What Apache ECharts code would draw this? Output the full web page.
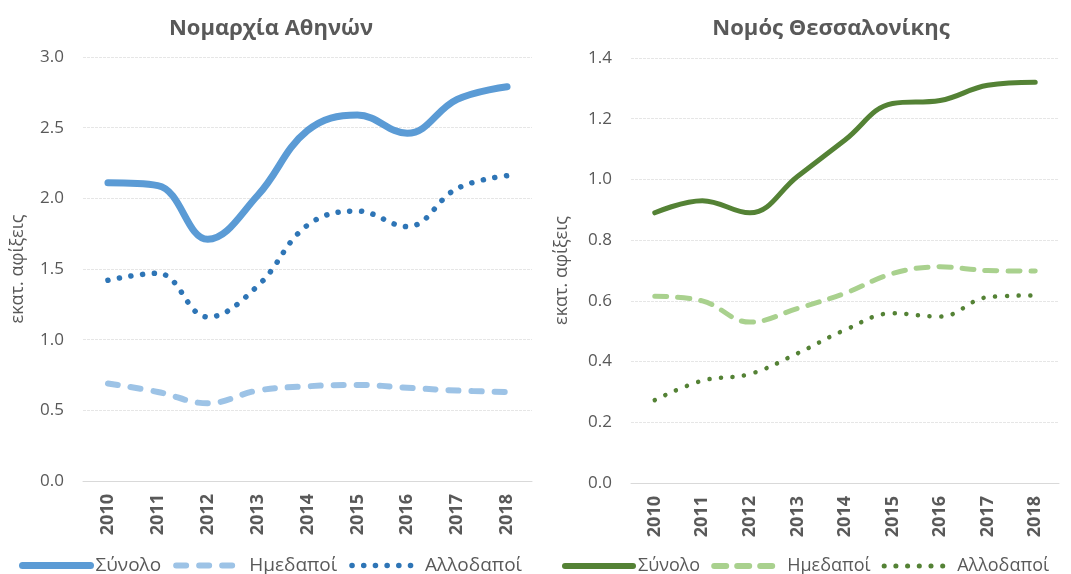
<!DOCTYPE html>
<html>
<head>
<meta charset="utf-8">
<script src="https://cdn.jsdelivr.net/npm/echarts@6/dist/echarts.min.js"></script>
<style>
  html, body { margin: 0; padding: 0; background: #fff; }
  #wrap { position: relative; width: 1071px; height: 574px; }
  #athens { position: absolute; left: 0; top: 0; width: 540px; height: 574px; }
  #thess { position: absolute; left: 540px; top: 0; width: 531px; height: 574px; }
</style>
</head>
<body>
<div id="wrap">
  <div id="athens"></div>
  <div id="thess"></div>
</div>
<script>
// Years on the horizontal axis
const years = ['2010', '2011', '2012', '2013', '2014', '2015', '2016', '2017', '2018'];

// Arrivals in Athens prefecture (millions)
const athensTotal    = [2.11, 2.09, 1.71, 2.02, 2.48, 2.59, 2.46, 2.70, 2.79];
const athensDomestic = [0.69, 0.63, 0.55, 0.64, 0.67, 0.68, 0.66, 0.64, 0.63];
const athensForeign  = [1.42, 1.47, 1.16, 1.38, 1.81, 1.91, 1.80, 2.07, 2.16];

// Arrivals in Thessaloniki prefecture (millions)
const thessTotal    = [0.89, 0.93, 0.89, 1.01, 1.13, 1.25, 1.26, 1.31, 1.32];
const thessDomestic = [0.615, 0.60, 0.53, 0.575, 0.625, 0.69, 0.712, 0.70, 0.698];
const thessForeign  = [0.273, 0.337, 0.359, 0.427, 0.504, 0.559, 0.548, 0.612, 0.618];

const seriesNames = ['Σύνολο', 'Ημεδαποί', 'Αλλοδαποί'];
const yAxisName = 'εκατ. αφίξεις';

const FONT = '"Open Sans", "Noto Sans", sans-serif';
const TXT = '#595959';

function buildOption(cfg) {
  const styles = [
    { color: cfg.colors[0], width: cfg.widths[0], type: 'solid' },
    { color: cfg.colors[1], width: cfg.widths[1], type: cfg.dash },
    { color: cfg.colors[2], width: cfg.widths[2], type: cfg.dot }
  ];
  const datasets = [cfg.total, cfg.domestic, cfg.foreign];
  return {
    animation: false,
    textStyle: { fontFamily: FONT },
    title: {
      text: cfg.title, left: cfg.titleLeft, top: 13,
      textAlign: 'center',
      textStyle: { fontFamily: FONT, fontSize: 22, fontWeight: 'bold', color: TXT }
    },
    legend: {
      bottom: -6, left: cfg.legendLeft, right: 0,
      itemWidth: cfg.legendIconWidth, itemHeight: 10, itemGap: cfg.legendGap,
      textStyle: { fontFamily: FONT, fontSize: cfg.legendFont, color: TXT },
      data: seriesNames.map((name, i) => ({
        name,
        itemStyle: { opacity: 0 },
        lineStyle: { color: styles[i].color, width: cfg.legendWidths[i], type: styles[i].type, cap: 'round' }
      }))
    },
    grid: cfg.grid,
    xAxis: {
      type: 'category', data: years, boundaryGap: true,
      axisLine: { lineStyle: { color: '#d9d9d9', width: 1 } },
      axisTick: { show: false },
      axisLabel: { rotate: 90, margin: 13, fontFamily: FONT, fontSize: 18, fontWeight: 'bold', color: TXT }
    },
    yAxis: {
      type: 'value', min: 0, max: cfg.max, interval: cfg.interval,
      name: yAxisName, nameLocation: 'middle', nameGap: cfg.nameGap, nameRotate: 90,
      nameTextStyle: { fontFamily: FONT, fontSize: 18, color: TXT },
      axisLine: { show: false }, axisTick: { show: false },
      axisLabel: { margin: 19, fontFamily: FONT, fontSize: 17, color: TXT,
                   formatter: v => v.toFixed(1) },
      splitLine: { lineStyle: { color: '#e6e6e6', width: 1, type: [3, 1] } }
    },
    series: seriesNames.map((name, i) => ({
      name, type: 'line', data: datasets[i], smooth: 0.4, symbol: 'none',
      lineStyle: Object.assign({ cap: 'round', join: 'round' }, styles[i]),
      itemStyle: { color: styles[i].color }
    }))
  };
}

const athens = echarts.init(document.getElementById('athens'), null, { renderer: 'canvas' });
athens.setOption(buildOption({
  title: 'Νομαρχία Αθηνών', titleLeft: 266,
  legendLeft: 14, legendFont: 19, legendGap: 12, legendIconWidth: 68,
  grid: { left: 83, right: 8, top: 57, bottom: 93 },
  max: 3.0, interval: 0.5, nameGap: 56,
  total: athensTotal, domestic: athensDomestic, foreign: athensForeign,
  colors: ['#5b9bd5', '#9dc3e6', '#2e75b6'],
  widths: [7, 6, 5.5], legendWidths: [7, 6, 5.5],
  dash: [10, 13], dot: [0.1, 11.6]
}));

const thess = echarts.init(document.getElementById('thess'), null, { renderer: 'canvas' });
thess.setOption(buildOption({
  title: 'Νομός Θεσσαλονίκης', titleLeft: 286,
  legendLeft: 17, legendFont: 18, legendGap: 11, legendIconWidth: 68,
  grid: { left: 91, right: 12, top: 58, bottom: 91 },
  max: 1.4, interval: 0.2, nameGap: 60,
  total: thessTotal, domestic: thessDomestic, foreign: thessForeign,
  colors: ['#548235', '#a9d18e', '#548235'],
  widths: [5, 5, 4.5], legendWidths: [6, 6, 5],
  dash: [12, 11], dot: [0.1, 11.6]
}));
</script>
</body>
</html>
